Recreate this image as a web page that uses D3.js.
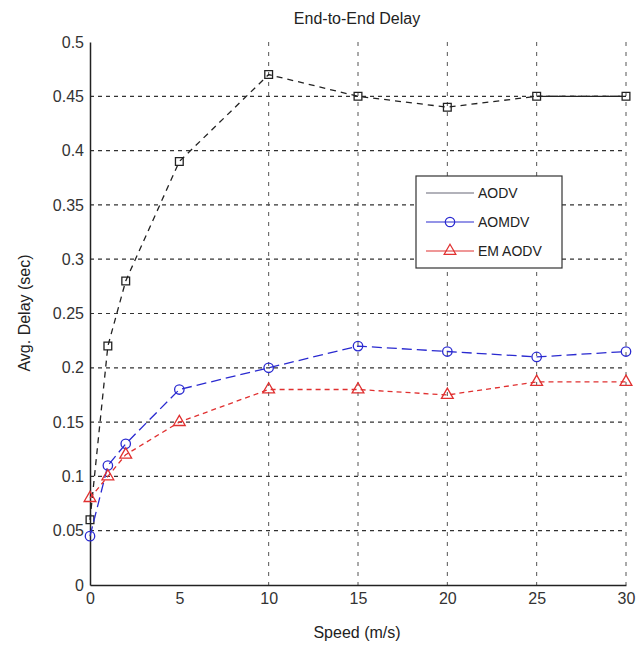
<!DOCTYPE html>
<html>
<head>
<meta charset="utf-8">
<script src="https://cdn.jsdelivr.net/npm/d3@7"></script>
<style>
	body { margin: 0; background: #fff; }
	svg { font-family: "Liberation Sans", Arial, sans-serif; }
</style>
</head>
<body>
<svg id="chart" width="641" height="648"></svg>
<script>
	// data
	var speeds = [ 0, 1, 2, 5, 10, 15, 20, 25, 30 ];
	var aodv = [ 0.06, 0.22, 0.28, 0.39, 0.47, 0.45, 0.44, 0.45, 0.45 ];
	var aomdv = [ 0.045, 0.11, 0.13, 0.18, 0.20, 0.22, 0.215, 0.21, 0.215 ];
	var emAodv = [ 0.08, 0.10, 0.12, 0.15, 0.18, 0.18, 0.175, 0.187, 0.187 ];
	var xTicks = [ 0, 5, 10, 15, 20, 25, 30 ];
	var yTicks = [ 0, 0.05, 0.1, 0.15, 0.2, 0.25, 0.3, 0.35, 0.4, 0.45, 0.5 ];
	var seriesNames = [ "AODV", "AOMDV", "EM AODV" ];

	var plotLeft = 90, plotRight = 626, plotTop = 42, plotBottom = 585;

	var svg = d3.select("#chart");
	var x = d3.scaleLinear().domain([ 0, 30 ]).range([ plotLeft, plotRight ]);
	var y = d3.scaleLinear().domain([ 0, 0.5 ]).range([ plotBottom, plotTop ]);

	// grid
	svg.append("g").selectAll("line").data(yTicks.filter(function(d) {
		return d > 0 && d < 0.5;
	})).enter().append("line")//
	.attr("x1", plotLeft).attr("x2", plotRight)//
	.attr("y1", function(d) { return y(d); })//
	.attr("y2", function(d) { return y(d); })//
	.attr("stroke", "#333").attr("stroke-width", 1.2)//
	.attr("stroke-dasharray", "4,4");

	svg.append("g").selectAll("line").data(xTicks.filter(function(d) {
		return d >= 10;
	})).enter().append("line")//
	.attr("x1", function(d) { return x(d); })//
	.attr("x2", function(d) { return x(d); })//
	.attr("y1", plotTop).attr("y2", plotBottom)//
	.attr("stroke", "#555").attr("stroke-width", 1)//
	.attr("stroke-dasharray", "4,6");

	// axes
	var xAxis = d3.axisBottom(x).tickValues(xTicks).tickSize(0).tickPadding(8);
	var yAxis = d3.axisLeft(y).tickValues(yTicks).tickSize(0).tickPadding(6)//
	.tickFormat(function(d) { return d === 0 ? "0" : d3.format("")(d); });

	var gx = svg.append("g").attr("transform", "translate(0," + plotBottom + ")").call(xAxis);
	var gy = svg.append("g").attr("transform", "translate(" + plotLeft + ",0)").call(yAxis);
	[ gx, gy ].forEach(function(g) {
		g.select(".domain").attr("stroke", "#222").attr("stroke-width", 1.5);
		g.selectAll("text").attr("fill", "#333").style("font-size", "16px");
	});

	var series = [
		{ name: seriesNames[0], values: aodv, color: "#222", dash: "6,5", marker: "square" },
		{ name: seriesNames[1], values: aomdv, color: "#2a2ad0", dash: "10,5", marker: "circle" },
		{ name: seriesNames[2], values: emAodv, color: "#e03030", dash: "5,4", marker: "triangle" }
	];

	var line = d3.line()//
	.x(function(d) { return x(d[0]); })//
	.y(function(d) { return y(d[1]); });

	var symbolFor = function(m) {
		if (m == "square") return d3.symbol().type(d3.symbolSquare).size(60);
		if (m == "circle") return d3.symbol().type(d3.symbolCircle).size(70);
		return d3.symbol().type(d3.symbolTriangle).size(60);
	};

	series.forEach(function(s, k) {
		var pts = speeds.map(function(v, i) { return [ v, s.values[i] ]; });
		svg.append("path").datum(pts)//
		.attr("d", line)//
		.attr("fill", "none")//
		.attr("stroke", s.color)//
		.attr("stroke-width", 1.3)//
		.attr("stroke-dasharray", s.dash);
		if (k == 0) {
			// the last AODV stretch is drawn solid in the original
			svg.append("path").datum(pts.slice(-2))//
			.attr("d", line)//
			.attr("fill", "none")//
			.attr("stroke", s.color)//
			.attr("stroke-width", 1.3);
		}
		svg.append("g").selectAll("path").data(pts).enter().append("path")//
		.attr("d", symbolFor(s.marker))//
		.attr("transform", function(d) {
			return "translate(" + x(d[0]) + "," + y(d[1]) + ")";
		})//
		.attr("fill", "none")//
		.attr("stroke", s.color)//
		.attr("stroke-width", 1.3);
	});

	// legend
	var legend = svg.append("g").attr("transform", "translate(416,176)");
	legend.append("rect").attr("width", 146).attr("height", 92)//
	.attr("fill", "#fff").attr("stroke", "#333").attr("stroke-width", 1.2);
	series.forEach(function(s, i) {
		var ly = 17 + i * 29;
		legend.append("line").attr("x1", 10).attr("x2", 58)//
		.attr("y1", ly).attr("y2", ly)//
		.attr("stroke", i == 0 ? "#667" : s.color).attr("stroke-width", 1.2);
		if (i > 0) {
			legend.append("path").attr("d", symbolFor(s.marker)())//
			.attr("transform", "translate(34," + ly + ")")//
			.attr("fill", "none").attr("stroke", s.color).attr("stroke-width", 1.2);
		}
		legend.append("text").attr("x", 62).attr("y", ly + 5)//
		.style("font-size", "14px").attr("fill", "#222").text(s.name);
	});

	// titles
	svg.append("text").attr("x", 357).attr("y", 24).attr("text-anchor", "middle")//
	.style("font-size", "16px").attr("fill", "#222").text("End-to-End Delay");
	svg.append("text").attr("x", 357).attr("y", 638).attr("text-anchor", "middle")//
	.style("font-size", "16px").attr("fill", "#222").text("Speed (m/s)");
	svg.append("text").attr("transform", "translate(30,313) rotate(-90)")//
	.attr("text-anchor", "middle").style("font-size", "16px").attr("fill", "#222")//
	.text("Avg. Delay (sec)");
</script>
</body>
</html>
